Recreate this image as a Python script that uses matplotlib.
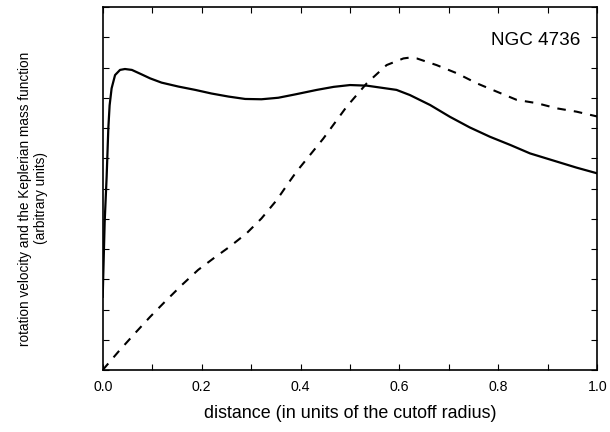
import matplotlib
matplotlib.use("Agg")
import matplotlib.pyplot as plt
from matplotlib.ticker import MultipleLocator, NullFormatter

plt.rcParams['font.family'] = ['Liberation Sans', 'DejaVu Sans']

# rotation velocity (solid)
vel_x = [0.0, 0.004, 0.008, 0.0114, 0.014, 0.018, 0.025, 0.035, 0.045, 0.059, 0.079,
         0.096, 0.119, 0.153, 0.187, 0.220, 0.254, 0.288, 0.321, 0.355, 0.389, 0.433,
         0.467, 0.500, 0.534, 0.594, 0.621, 0.662, 0.702, 0.742, 0.783, 0.824, 0.864,
         0.918, 0.958, 1.0]
vel_y = [2.42, 4.9, 6.4, 8.0, 8.75, 9.31, 9.75, 9.92, 9.95, 9.92, 9.77,
         9.64, 9.50, 9.37, 9.26, 9.14, 9.04, 8.96, 8.95, 9.0, 9.11, 9.26,
         9.36, 9.42, 9.40, 9.26, 9.09, 8.76, 8.37, 8.02, 7.71, 7.44, 7.16,
         6.89, 6.69, 6.50]

# Keplerian mass function (dashed)
kep_x = [0.0, 0.032, 0.065, 0.096, 0.126, 0.160, 0.193, 0.224, 0.257, 0.291, 0.321,
         0.352, 0.375, 0.392, 0.446, 0.493, 0.534, 0.574, 0.608, 0.622, 0.635, 0.675,
         0.716, 0.756, 0.797, 0.837, 0.878, 0.918, 0.958, 1.0]
kep_y = [0.0, 0.61, 1.21, 1.76, 2.26, 2.81, 3.31, 3.69, 4.08, 4.52, 5.01,
         5.62, 6.17, 6.56, 7.65, 8.70, 9.48, 10.08, 10.30, 10.33, 10.30, 10.08,
         9.81, 9.48, 9.20, 8.93, 8.82, 8.65, 8.54, 8.38]

xticks = [0.0, 0.2, 0.4, 0.6, 0.8, 1.0]
xticklabels = ['0.0', '0.2', '0.4', '0.6', '0.8', '1.0']

fig = plt.figure(figsize=(6.1, 4.32), dpi=100)
ax = fig.add_axes([102.7/610, 1 - 370/432, (597.3-102.7)/610, (370-7)/432])

ax.plot(vel_x, vel_y, color='black', lw=1.6, solid_joinstyle='round')
ax.plot(kep_x, kep_y, color='black', lw=1.5, dashes=(4.1, 3.9))

ax.set_xlim(0, 1)
ax.set_ylim(0, 12)
ax.set_xticks(xticks)
ax.set_xticklabels(xticklabels, fontsize=10.2)
ax.xaxis.set_minor_locator(MultipleLocator(0.1))
ax.yaxis.set_major_locator(MultipleLocator(1))
ax.yaxis.set_major_formatter(NullFormatter())
ax.tick_params(which='both', direction='in', top=True, right=True, length=4, width=0.8)
ax.tick_params(axis='x', which='major', pad=7)
for s in ax.spines.values():
    s.set_linewidth(1.2)

ax.set_xlabel('distance (in units of the cutoff radius)', fontsize=12.9, labelpad=8)
ax.set_ylabel('rotation velocity and the Keplerian mass function\n(arbitrary units)',
              fontsize=9.8, linespacing=1.15)
ax.yaxis.set_label_coords(-0.111, 0.4725)

ax.text(0.965, 0.909, 'NGC 4736', transform=ax.transAxes, ha='right', va='center', fontsize=13.6)

fig.savefig('out.png', dpi=100)
